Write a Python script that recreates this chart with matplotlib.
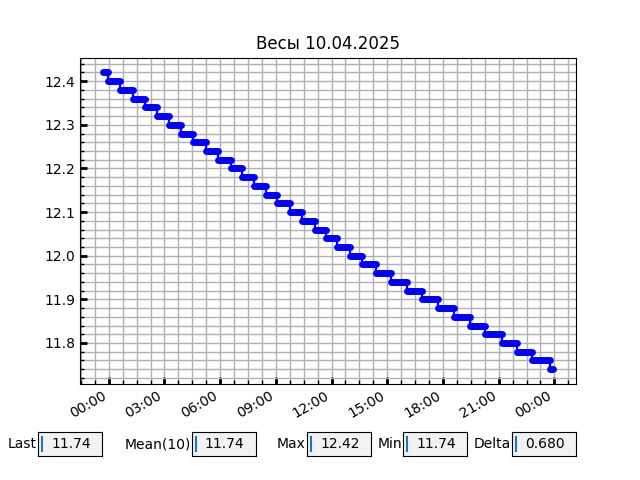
import numpy as np
import pandas as pd
import matplotlib
matplotlib.use("Agg")
import matplotlib.pyplot as plt
import matplotlib.dates as mdates
from matplotlib.ticker import AutoMinorLocator, MultipleLocator

# weight levels and the time each level was first seen
levels = [12.42, 12.40, 12.38, 12.36, 12.34, 12.32, 12.30, 12.28, 12.26, 12.24,
          12.22, 12.20, 12.18, 12.16, 12.14, 12.12, 12.10, 12.08, 12.06, 12.04,
          12.02, 12.00, 11.98, 11.96, 11.94, 11.92, 11.90, 11.88, 11.86, 11.84,
          11.82, 11.80, 11.78, 11.76, 11.74]
starts = ["2025-04-09 23:40", "2025-04-09 23:58", "2025-04-10 00:36", "2025-04-10 01:18",
          "2025-04-10 01:57", "2025-04-10 02:36", "2025-04-10 03:15", "2025-04-10 03:54",
          "2025-04-10 04:32", "2025-04-10 05:15", "2025-04-10 05:54", "2025-04-10 06:36",
          "2025-04-10 07:11", "2025-04-10 07:50", "2025-04-10 08:29", "2025-04-10 09:05",
          "2025-04-10 09:47", "2025-04-10 10:26", "2025-04-10 11:05", "2025-04-10 11:41",
          "2025-04-10 12:19", "2025-04-10 12:58", "2025-04-10 13:37", "2025-04-10 14:23",
          "2025-04-10 15:11", "2025-04-10 16:03", "2025-04-10 16:52", "2025-04-10 17:44",
          "2025-04-10 18:36", "2025-04-10 19:27", "2025-04-10 20:16", "2025-04-10 21:11",
          "2025-04-10 22:00", "2025-04-10 22:49", "2025-04-10 23:47"]
last_time = "2025-04-10 23:57"

box_labels = ["Last", "Mean(10)", "Max", "Min", "Delta"]
box_values = ["11.74", "11.74", "12.42", "11.74", "0.680"]
box_left = [0.06, 0.30, 0.48, 0.63, 0.80]

t_start = pd.to_datetime(starts)
t_end = pd.to_datetime(starts[1:] + [last_time])

fig = plt.figure(figsize=(6.4, 4.8), dpi=100)
ax = fig.add_subplot(111)

# thin connectors through the whole step line
xs, ys = [], []
for s, e, v in zip(t_start, t_end, levels):
    xs += [s, e]
    ys += [v, v]
ax.plot(xs, ys, color='blue', lw=1.6)
# thick flat parts
for s, e, v in zip(t_start, t_end, levels):
    ax.plot([s, e], [v, v], color='blue', lw=5, solid_capstyle='round')

ax.set_title("Весы 10.04.2025")
ax.xaxis.set_major_locator(mdates.HourLocator(byhour=range(0, 24, 3)))
ax.xaxis.set_major_formatter(mdates.DateFormatter('%H:%M'))
ax.xaxis.set_minor_locator(AutoMinorLocator(4))
ax.yaxis.set_major_locator(MultipleLocator(0.1))
ax.yaxis.set_minor_locator(AutoMinorLocator(5))
ax.grid(True, which='both', color='#b0b0b0', lw=1)
ax.set_axisbelow(True)
ax.tick_params(which='major', direction='in', length=5, width=2)
ax.tick_params(which='minor', direction='in', length=3, width=1)
fig.autofmt_xdate()

for lab, val, x0 in zip(box_labels, box_values, box_left):
    bax = fig.add_axes([x0, 0.05, 0.1, 0.05], facecolor='0.95')
    bax.set_xticks([])
    bax.set_yticks([])
    bax.set_xlim(0, 1)
    bax.set_ylim(0, 1)
    bax.text(-0.02, 0.5, lab, transform=bax.transAxes, ha='right', va='center')
    bax.text(0.2, 0.5, val, transform=bax.transAxes, ha='left', va='center')
    bax.plot([0.06, 0.06], [0.21, 0.79], color='#1f77b4', lw=1.5)

fig.savefig("out.png", dpi=100)
